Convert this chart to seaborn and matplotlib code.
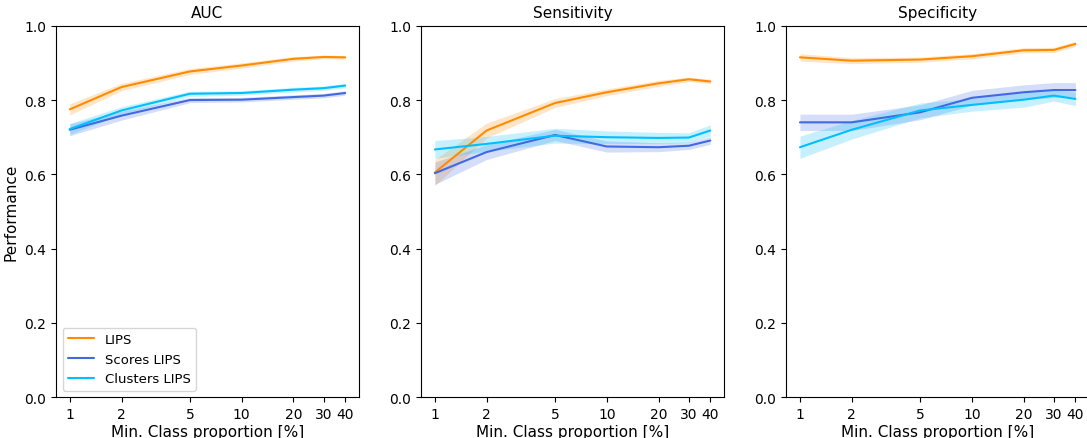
import numpy as np
import pandas as pd
import matplotlib
matplotlib.use("Agg")
import matplotlib.pyplot as plt
import seaborn as sns
from matplotlib.ticker import FixedLocator, NullLocator

proportions = [1, 2, 5, 10, 20, 30, 40]
methods = ["LIPS", "Scores LIPS", "Clusters LIPS"]
colors = ["#ff8c00", "#4169e1", "#00bfff"]
metrics = ["AUC", "Sensitivity", "Specificity"]

auc_lips = [0.775, 0.835, 0.877, 0.893, 0.911, 0.916, 0.915]
auc_scores = [0.720, 0.758, 0.800, 0.801, 0.808, 0.812, 0.819]
auc_clusters = [0.722, 0.772, 0.817, 0.819, 0.828, 0.832, 0.839]
auc_lips_err = [0.015, 0.010, 0.008, 0.007, 0.006, 0.005, 0.005]
auc_scores_err = [0.016, 0.012, 0.007, 0.006, 0.006, 0.006, 0.006]
auc_clusters_err = [0.015, 0.010, 0.007, 0.006, 0.006, 0.006, 0.006]

sens_lips = [0.605, 0.718, 0.792, 0.821, 0.845, 0.856, 0.850]
sens_scores = [0.603, 0.660, 0.706, 0.675, 0.673, 0.677, 0.691]
sens_clusters = [0.667, 0.682, 0.704, 0.700, 0.698, 0.699, 0.718]
sens_lips_err = [0.035, 0.020, 0.012, 0.009, 0.008, 0.006, 0.006]
sens_scores_err = [0.030, 0.020, 0.015, 0.015, 0.012, 0.010, 0.010]
sens_clusters_err = [0.024, 0.020, 0.020, 0.017, 0.015, 0.013, 0.015]

spec_lips = [0.915, 0.906, 0.909, 0.918, 0.934, 0.935, 0.951]
spec_scores = [0.740, 0.740, 0.767, 0.806, 0.821, 0.827, 0.827]
spec_clusters = [0.673, 0.720, 0.772, 0.787, 0.801, 0.812, 0.803]
spec_lips_err = [0.010, 0.008, 0.007, 0.007, 0.007, 0.007, 0.007]
spec_scores_err = [0.022, 0.022, 0.020, 0.020, 0.020, 0.020, 0.020]
spec_clusters_err = [0.030, 0.025, 0.020, 0.017, 0.020, 0.015, 0.018]

values = {
    "AUC": [auc_lips, auc_scores, auc_clusters],
    "Sensitivity": [sens_lips, sens_scores, sens_clusters],
    "Specificity": [spec_lips, spec_scores, spec_clusters],
}
errors = {
    "AUC": [auc_lips_err, auc_scores_err, auc_clusters_err],
    "Sensitivity": [sens_lips_err, sens_scores_err, sens_clusters_err],
    "Specificity": [spec_lips_err, spec_scores_err, spec_clusters_err],
}

rows = []
for metric in metrics:
    for m, vals, errs in zip(methods, values[metric], errors[metric]):
        for p, v, e in zip(proportions, vals, errs):
            rows.append(dict(metric=metric, method=m, prop=p, value=v, err=e))
df = pd.DataFrame(rows)

sns.set_style("ticks", {"axes.edgecolor": "black", "xtick.color": "black",
                        "ytick.color": "black", "text.color": "black",
                        "axes.labelcolor": "black"})
plt.rcParams["font.family"] = ["DejaVu Sans"]
plt.rcParams.update({"xtick.major.size": 3.5, "ytick.major.size": 3.5,
                     "xtick.major.pad": 3.5, "ytick.major.pad": 3.5,
                     "xtick.major.width": 0.8, "ytick.major.width": 0.8,
                     "axes.linewidth": 0.8})

fig, axes = plt.subplots(1, 3, figsize=(10.87, 4.39), dpi=100)
fig.subplots_adjust(left=0.0515, right=1.002, top=0.939, bottom=0.093, wspace=0.205)
palette = dict(zip(methods, colors))

for i, (ax, metric) in enumerate(zip(axes, metrics)):
    sub = df[df.metric == metric]
    sns.lineplot(data=sub, x="prop", y="value", hue="method", hue_order=methods,
                 palette=palette, errorbar=None, ax=ax, linewidth=1.5,
                 legend=(i == 0))
    for m in methods:
        s = sub[sub.method == m]
        ax.fill_between(s.prop, s.value - s.err, s.value + s.err,
                        color=palette[m], alpha=0.22, linewidth=0)
    ax.set_xscale("log")
    ax.xaxis.set_major_locator(FixedLocator(proportions))
    ax.xaxis.set_minor_locator(NullLocator())
    ax.set_xticklabels([str(p) for p in proportions])
    ax.set_ylim(0, 1)
    ax.set_yticks([0, 0.2, 0.4, 0.6, 0.8, 1.0])
    ax.set_xlabel("Min. Class proportion [%]", fontsize=11, labelpad=2)
    ax.set_ylabel("Performance" if i == 0 else "", fontsize=11)
    ax.set_title(metric, fontsize=11)
    ax.tick_params(labelsize=10)
    if i == 0:
        leg = ax.legend(loc="lower left", fontsize=9.5, frameon=True)
        leg.set_title(None)

fig.savefig("out.png", dpi=100)
